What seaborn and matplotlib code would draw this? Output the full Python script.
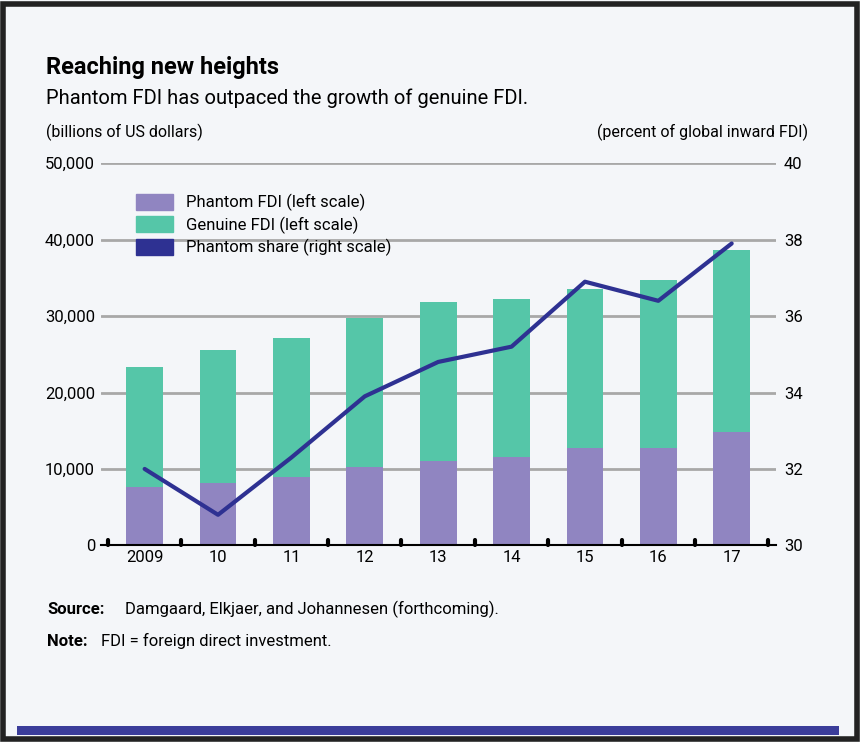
import numpy as np
import pandas as pd
import seaborn as sns
import matplotlib.pyplot as plt
from matplotlib.patches import Rectangle, Patch

years = ['2009', '10', '11', '12', '13', '14', '15', '16', '17']
total_fdi = [23400, 25500, 27100, 29800, 31800, 32300, 33500, 34700, 38700]
phantom_fdi = [7700, 8100, 8900, 10300, 11100, 11600, 12700, 12800, 14800]
phantom_share = [32.0, 30.8, 32.3, 33.9, 34.8, 35.2, 36.9, 36.4, 37.9]

df = pd.DataFrame({'year': years, 'total': total_fdi, 'phantom': phantom_fdi})

sns.set_style('white')
plt.rcParams['font.family'] = ['Roboto', 'DejaVu Sans']
plt.rcParams['text.color'] = 'black'
plt.rcParams['xtick.color'] = 'black'
plt.rcParams['ytick.color'] = 'black'

purple = '#9085c1'
green = '#55c6a8'
navy = '#2e3192'

fig = plt.figure(figsize=(8.6, 7.42), dpi=100)
fig.patch.set_facecolor('#f4f6f9')
fig.add_artist(Rectangle((0.003, 0.004), 0.994, 0.99, transform=fig.transFigure,
                         fill=False, edgecolor='#222222', lw=4))
fig.add_artist(Rectangle((0.02, 0.01), 0.955, 0.012, transform=fig.transFigure,
                         color='#3b3d9a', lw=0))

ax = fig.add_axes([0.117, 0.265, 0.785, 0.515])
ax.set_facecolor('none')
sns.barplot(data=df, x='year', y='total', color=green, width=0.5, ax=ax,
            saturation=1, linewidth=0)
sns.barplot(data=df, x='year', y='phantom', color=purple, width=0.5, ax=ax,
            saturation=1, linewidth=0)
ax.set_ylim(0, 50000)
ax.set_xlim(-0.6, 8.6)
ax.set_yticks(range(0, 50001, 10000))
ax.set_yticklabels([f'{v:,}' for v in range(0, 50001, 10000)], fontsize=12)
ax.set_xticks(range(9))
ax.set_xticklabels(years, fontsize=12)
ax.set_xlabel('')
ax.set_ylabel('')
for v in range(10000, 50001, 10000):
    ax.axhline(v, color='#a8a8a8', lw=2, zorder=0)
for s in ['top', 'right', 'left']:
    ax.spines[s].set_visible(False)
ax.spines['bottom'].set_color('black')
ax.spines['bottom'].set_linewidth(1.5)
ax.tick_params(axis='y', length=0, pad=4)
ax.tick_params(axis='x', length=0)
for x in np.arange(-0.5, 9, 1):
    ax.plot([x, x], [0, 700], color='black', lw=3, clip_on=False)

ax2 = ax.twinx()
ax2.plot(np.arange(9), phantom_share, color=navy, lw=3)
ax2.set_ylim(30, 40)
ax2.set_yticks(range(30, 41, 2))
ax2.set_yticklabels([str(v) for v in range(30, 41, 2)], fontsize=12)
ax2.tick_params(axis='y', length=0, pad=6)
for s in ['top', 'right', 'left', 'bottom']:
    ax2.spines[s].set_visible(False)

handles = [Patch(color=purple), Patch(color=green), Patch(color=navy)]
labels = ['Phantom FDI (left scale)', 'Genuine FDI (left scale)', 'Phantom share (right scale)']
ax2.legend(handles, labels, loc='upper left', bbox_to_anchor=(0.03, 0.96), frameon=False,
           fontsize=12, handlelength=2.2, handleheight=1.1, labelspacing=0.3)

fig.text(0.053, 0.9, 'Reaching new heights', fontsize=17, fontweight='bold')
fig.text(0.053, 0.86, 'Phantom FDI has outpaced the growth of genuine FDI.', fontsize=14.5)
fig.text(0.053, 0.815, '(billions of US dollars)', fontsize=11.5)
fig.text(0.94, 0.815, '(percent of global inward FDI)', fontsize=11.5, ha='right')
fig.text(0.055, 0.172, 'Source:', fontsize=12, fontweight='bold')
fig.text(0.145, 0.172, 'Damgaard, Elkjaer, and Johannesen (forthcoming).', fontsize=12)
fig.text(0.055, 0.13, 'Note:', fontsize=12, fontweight='bold')
fig.text(0.118, 0.13, 'FDI = foreign direct investment.', fontsize=12)

fig.savefig('out.png', dpi=100, facecolor=fig.get_facecolor())
